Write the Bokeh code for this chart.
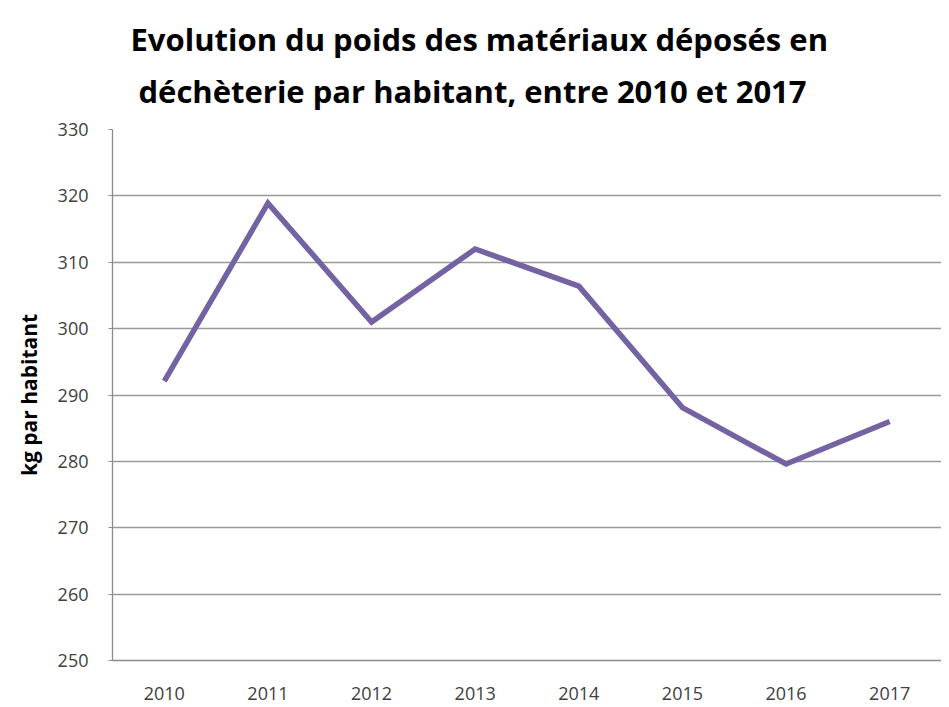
from bokeh.plotting import figure
from bokeh.models import FactorRange, Range1d, FixedTicker, Title
from bokeh.embed import file_html
from bokeh.resources import INLINE

years = ["2010", "2011", "2012", "2013", "2014", "2015", "2016", "2017"]
kg_par_habitant = [292.1, 318.9, 301.0, 312.0, 306.4, 288.1, 279.6, 286.0]
y_ticks = [250, 260, 270, 280, 290, 300, 310, 320, 330]

title_line1 = "Evolution du poids des matériaux déposés en"
title_line2 = "déchèterie par habitant, entre 2010 et 2017"

p = figure(
    x_range=FactorRange(*years, range_padding=0),
    y_range=Range1d(250, 330),
    frame_width=829, frame_height=531,
    output_backend="svg", toolbar_location=None,
    min_border_left=112, min_border_right=0, min_border_bottom=47, min_border_top=0,
)

title_style = dict(text_font="Open Sans", text_font_size="31px", text_font_style="bold",
                   text_color="#000000", align="left")
p.title = Title(text=title_line1, offset=18, standoff=30, **title_style)
# spacer nearest to the frame, then second title line
p.add_layout(Title(text=" ", text_font_size="20px", standoff=0), "above")
p.add_layout(Title(text=title_line2, offset=26, standoff=-13, **title_style), "above")

p.line(x=years, y=kg_par_habitant, line_color="#7562a3", line_width=5.5, line_join="miter")

p.yaxis.ticker = FixedTicker(ticks=y_ticks)
p.yaxis.axis_label = "kg par habitant"
p.yaxis.axis_label_text_font = "Open Sans"
p.yaxis.axis_label_text_font_size = "21px"
p.yaxis.axis_label_text_font_style = "bold"
p.yaxis.axis_label_text_color = "#000000"
p.yaxis.axis_label_standoff = 12
for ax in (p.xaxis[0], p.yaxis[0]):
    ax.major_label_text_font = "Open Sans"
    ax.major_label_text_font_size = "18px"
    ax.major_label_text_color = "#404040"
    ax.axis_line_color = "#8c8c8c"
    ax.axis_line_width = 1.3
    ax.minor_tick_line_color = None
p.yaxis.major_tick_line_color = "#8c8c8c"
p.yaxis.major_tick_in = 0
p.yaxis.major_tick_out = 4
p.yaxis.major_label_standoff = 20
p.xaxis.major_tick_line_color = None
p.xaxis.major_label_standoff = 20

p.xgrid.grid_line_color = None
p.ygrid.grid_line_color = "#9a9a9a"
p.ygrid.grid_line_width = 1.3
p.outline_line_color = None
p.background_fill_color = "white"
p.border_fill_color = "white"

open("out.html", "w").write(file_html(p, INLINE))
